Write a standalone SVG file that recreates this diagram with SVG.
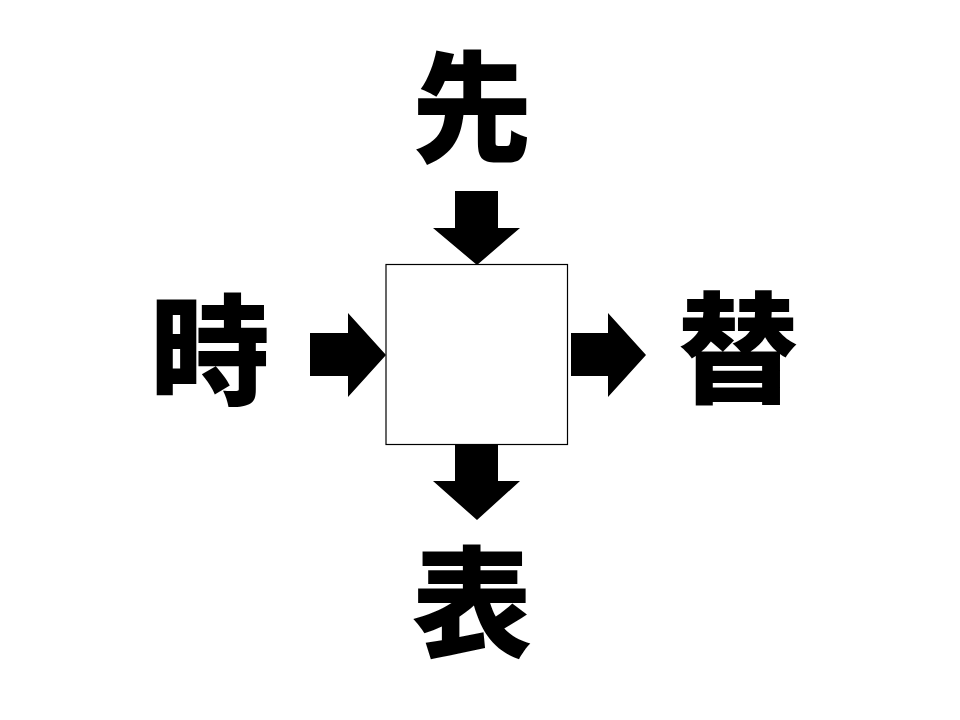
<svg xmlns="http://www.w3.org/2000/svg" width="960" height="720" viewBox="0 0 960 720">
<style>
.k{font-family:"Noto Sans CJK JP","Noto Sans CJK SC",sans-serif;font-weight:900;font-size:120px;fill:#000;text-anchor:middle}
.a{fill:#000}
</style>
<rect width="960" height="720" fill="#fff"/>
<g id="center"><rect x="386" y="264.5" width="181.5" height="180" fill="#fff" stroke="#000" stroke-width="1.2"/></g>
<g id="top"><text class="k" x="472" y="153">先</text></g>
<g id="left"><text class="k" x="210" y="396">時</text></g>
<g id="right"><text class="k" x="738" y="394">替</text></g>
<g id="bottom"><text class="k" x="472" y="648">表</text></g>
<g id="connectors">
<polygon class="a" points="455,191 498,191 498,228 520,228 477,265 433,228 455,228"/>
<polygon class="a" points="310,333 348,333 348,313 386,355 348,397 348,376 310,376"/>
<polygon class="a" points="571,333 608,333 608,313 646,355 608,397 608,376 571,376"/>
<polygon class="a" points="455,445 498,445 498,481 520,481 477,520 433,481 455,481"/>
</g>
</svg>
